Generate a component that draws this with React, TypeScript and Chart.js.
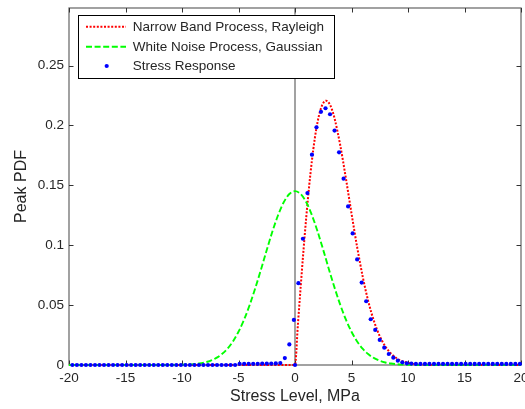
import React, { useEffect, useRef } from 'react';
import { Chart, registerables } from 'chart.js';

Chart.register(...registerables);

// Axis ticks
const xTicks = [-20, -15, -10, -5, 0, 5, 10, 15, 20];
const xTickLabels = ['-20', '-15', '-10', '-5', '0', '5', '10', '15', '20'];
const yTicks = [0, 0.05, 0.1, 0.15, 0.2, 0.25];
const yTickLabels = ['0', '0.05', '0.1', '0.15', '0.2', '0.25'];

// Narrow band process: Rayleigh peak PDF
const rayleighX = [
  -20, 0, 0.25, 0.5, 0.75, 1, 1.25, 1.5, 1.75, 2, 2.25, 2.5, 2.75, 3, 3.25, 3.5,
  4, 4.5, 5, 5.5, 6, 6.5, 7, 7.5, 8, 8.5, 9, 9.5, 10, 10.5, 11, 11.5, 12, 13, 20,
];
const rayleighY = [
  0, 0, 0.0329, 0.065, 0.0956, 0.1238, 0.1491, 0.1709, 0.189, 0.203, 0.2129, 0.2187, 0.2206, 0.2188, 0.2138, 0.2059,
  0.1836, 0.156, 0.1266, 0.0984, 0.0734, 0.0526, 0.0363, 0.0241, 0.0154, 0.0095, 0.0056, 0.0032, 0.0018, 0.0009, 0.0004, 0.0002, 0.0001, 0, 0,
];

// White noise process: Gaussian peak PDF
const gaussX = [
  -20, -11, -10.5, -10, -9.5, -9, -8.5, -8, -7.5, -7, -6.5, -6, -5.5, -5, -4.5, -4, -3.5, -3, -2.5, -2, -1.5, -1, -0.5,
  0, 0.5, 1, 1.5, 2, 2.5, 3, 3.5, 4, 4.5, 5, 5.5, 6, 6.5, 7, 7.5, 8, 8.5, 9, 9.5, 10, 10.5, 11, 20,
];
const gaussY = [
  0, 0, 0.0001, 0.0002, 0.0004, 0.0007, 0.0012, 0.0021, 0.0035, 0.0057, 0.0089, 0.0134, 0.0196, 0.0278, 0.038, 0.0504, 0.0646, 0.08, 0.096, 0.1114, 0.125, 0.1358, 0.1427,
  0.1451, 0.1427, 0.1358, 0.125, 0.1114, 0.096, 0.08, 0.0646, 0.0504, 0.038, 0.0278, 0.0196, 0.0134, 0.0089, 0.0057, 0.0035, 0.0021, 0.0012, 0.0007, 0.0004, 0.0002, 0.0001, 0, 0,
];

// Stress response: peak histogram
const stressX = [
  -19.7, -19.3, -18.9, -18.5, -18.1, -17.7, -17.3, -16.9, -16.5, -16.1,
  -15.7, -15.3, -14.9, -14.5, -14.1, -13.7, -13.3, -12.9, -12.5, -12.1,
  -11.7, -11.3, -10.9, -10.5, -10.1, -9.7, -9.3, -8.9, -8.5, -8.1,
  -7.7, -7.3, -6.9, -6.5, -6.1, -5.7, -5.3, -4.9, -4.5, -4.1,
  -3.7, -3.3, -2.9, -2.5, -2.1, -1.7, -1.3, -0.9, -0.5, -0.1, 0,
  0.3, 0.7, 1.1, 1.5, 1.9, 2.3, 2.7, 3.1, 3.5, 3.9,
  4.3, 4.7, 5.1, 5.5, 5.9, 6.3, 6.7, 7.1, 7.5, 7.9,
  8.3, 8.7, 9.1, 9.5, 9.9, 10.3, 10.7, 11.1, 11.5, 11.9,
  12.3, 12.7, 13.1, 13.5, 13.9, 14.3, 14.7, 15.1, 15.5, 15.9,
  16.3, 16.7, 17.1, 17.5, 17.9, 18.3, 18.7, 19.1, 19.5, 19.9,
];
const stressY = [
  0, 0, 0, 0, 0, 0, 0, 0, 0, 0,
  0, 0, 0, 0, 0, 0, 0, 0, 0, 0,
  0, 0, 0, 0, 0, 0, 0, 0, 0, 0,
  0, 0, 0, 0, 0, 0, 0, 0.001, 0.001, 0.001,
  0.001, 0.001, 0.0012, 0.0012, 0.0012, 0.0013, 0.0016, 0.0058, 0.0172, 0.0376, 0,
  0.0683, 0.1054, 0.1435, 0.1756, 0.1984, 0.2113, 0.2143, 0.2093, 0.1957, 0.1775,
  0.1555, 0.1324, 0.1098, 0.0881, 0.0688, 0.0532, 0.0382, 0.0293, 0.0209, 0.0145,
  0.0092, 0.0061, 0.0036, 0.0022, 0.0014, 0.0012, 0.0009, 0.0009, 0.0009, 0.0009,
  0.0009, 0.0009, 0.0009, 0.0009, 0.0009, 0.0009, 0.0009, 0.0009, 0.0009, 0.0009,
  0.0009, 0.0009, 0.0009, 0.0009, 0.0009, 0.0009, 0.0009, 0.0009, 0.0009, 0.0009,
];

const seriesLabels = ['Narrow Band Process, Rayleigh', 'White Noise Process, Gaussian', 'Stress Response'];

const FONT = "'Liberation Sans', Arial, Helvetica, sans-serif";
const TEXT = '#262626';

const toPoints = (xs: number[], ys: number[]) => xs.map((x, i) => ({ x, y: ys[i] }));

// Keep the plot box fixed: no extra room reserved for the end tick labels
const zeroPadding = (scale: any) => {
  scale.paddingTop = 0;
  scale.paddingBottom = 0;
  scale.paddingLeft = 0;
  scale.paddingRight = 0;
};

// Box, inward ticks and the x = 0 reference line, drawn under the data
const axesFrame = {
  id: 'axesFrame',
  beforeDatasetsDraw(chart: any) {
    const { ctx, chartArea } = chart;
    const { left, right, top, bottom } = chartArea;
    const xs = chart.scales.x;
    const ys = chart.scales.y;
    const len = 4.5;
    ctx.save();
    ctx.strokeStyle = '#707070';
    ctx.lineWidth = 1.3;
    ctx.strokeRect(left, top, right - left, bottom - top);
    const x0 = xs.getPixelForValue(0);
    ctx.beginPath();
    ctx.moveTo(x0, top);
    ctx.lineTo(x0, bottom);
    ctx.stroke();
    ctx.strokeStyle = '#333';
    ctx.lineWidth = 1;
    ctx.beginPath();
    xTicks.forEach((v) => {
      const px = Math.round(xs.getPixelForValue(v)) + 0.5;
      ctx.moveTo(px, bottom);
      ctx.lineTo(px, bottom - len);
      ctx.moveTo(px, top);
      ctx.lineTo(px, top + len);
    });
    yTicks.forEach((v) => {
      const py = Math.round(ys.getPixelForValue(v)) + 0.5;
      ctx.moveTo(left, py);
      ctx.lineTo(left + len, py);
      ctx.moveTo(right, py);
      ctx.lineTo(right - len, py);
    });
    ctx.stroke();
    ctx.restore();
  },
};

// Legend box inside the upper-left corner of the plot
const insetLegend = {
  id: 'insetLegend',
  afterDatasetsDraw(chart: any) {
    const { ctx, chartArea } = chart;
    const bx = chartArea.left + 8.7;
    const by = chartArea.top + 6.7;
    const bw = 256.3;
    const bh = 63.3;
    ctx.save();
    ctx.fillStyle = '#ffffff';
    ctx.fillRect(bx, by, bw, bh);
    ctx.strokeStyle = '#000000';
    ctx.lineWidth = 1;
    ctx.strokeRect(Math.round(bx) + 0.5, Math.round(by) + 0.5, Math.round(bw), Math.round(bh));
    const rows = [12, 32, 51.3];
    chart.data.datasets.forEach((ds: any, i: number) => {
      const cy = by + rows[i];
      if (ds.showLine) {
        ctx.strokeStyle = ds.borderColor;
        ctx.lineWidth = ds.borderWidth;
        ctx.setLineDash(ds.borderDash || []);
        ctx.beginPath();
        ctx.moveTo(bx + 8.3, cy);
        ctx.lineTo(bx + 48.3, cy);
        ctx.stroke();
        ctx.setLineDash([]);
      } else {
        ctx.fillStyle = ds.pointBackgroundColor;
        ctx.beginPath();
        ctx.arc(bx + 29, cy, ds.pointRadius, 0, Math.PI * 2);
        ctx.fill();
      }
      ctx.fillStyle = TEXT;
      ctx.font = `13.5px ${FONT}`;
      ctx.textAlign = 'left';
      ctx.textBaseline = 'middle';
      ctx.fillText(ds.label, bx + 55, cy + 0.5);
    });
    ctx.restore();
  },
};

export default function App() {
  const canvasRef = useRef<HTMLCanvasElement | null>(null);

  useEffect(() => {
    if (!canvasRef.current) return;
    const chart = new Chart(canvasRef.current, {
      type: 'scatter',
      data: {
        datasets: [
          {
            label: seriesLabels[0],
            data: toPoints(rayleighX, rayleighY),
            showLine: true,
            borderColor: '#ff0000',
            borderWidth: 2,
            borderDash: [2, 1.6],
            pointRadius: 0,
            cubicInterpolationMode: 'monotone',
            clip: false,
            order: 2,
          },
          {
            label: seriesLabels[1],
            data: toPoints(gaussX, gaussY),
            showLine: true,
            borderColor: '#00ff00',
            borderWidth: 1.9,
            borderDash: [6, 2.6],
            pointRadius: 0,
            cubicInterpolationMode: 'monotone',
            clip: false,
            order: 1,
          },
          {
            label: seriesLabels[2],
            data: toPoints(stressX, stressY),
            showLine: false,
            pointRadius: 2.1,
            pointBorderWidth: 0,
            pointBackgroundColor: '#0000ff',
            pointBorderColor: '#0000ff',
            clip: false,
            order: 0,
          },
        ] as any,
      },
      options: {
        responsive: false,
        animation: false,
        events: [],
        layout: { padding: { top: 8, right: 2, left: 0, bottom: 0 } },
        plugins: { legend: { display: false }, tooltip: { enabled: false } },
        scales: {
          x: {
            type: 'linear',
            min: -20,
            max: 20,
            afterBuildTicks: (scale: any) => {
              scale.ticks = xTicks.map((value) => ({ value }));
            },
            afterFit: (scale: any) => {
              scale.height = 44;
              zeroPadding(scale);
            },
            grid: { display: false, drawTicks: false },
            border: { display: false },
            ticks: {
              padding: 5,
              color: TEXT,
              font: { family: FONT, size: 13.5 },
              maxRotation: 0,
              autoSkip: false,
              callback: (_v: any, i: number) => xTickLabels[i],
            },
            title: {
              display: true,
              text: 'Stress Level, MPa',
              color: TEXT,
              font: { family: FONT, size: 16 },
              padding: { top: 0, bottom: 2.4 },
            },
          },
          y: {
            type: 'linear',
            min: 0,
            max: 0.298,
            afterBuildTicks: (scale: any) => {
              scale.ticks = yTicks.map((value) => ({ value }));
            },
            afterFit: (scale: any) => {
              scale.width = 69;
              zeroPadding(scale);
            },
            grid: { display: false, drawTicks: false },
            border: { display: false },
            ticks: {
              padding: 5,
              color: TEXT,
              font: { family: FONT, size: 13.5 },
              autoSkip: false,
              callback: (_v: any, i: number) => yTickLabels[i],
            },
            title: {
              display: true,
              text: 'Peak PDF',
              color: TEXT,
              font: { family: FONT, size: 16 },
              padding: { top: 11.9, bottom: 0 },
            },
          },
        },
      },
      plugins: [axesFrame, insetLegend],
    });
    return () => chart.destroy();
  }, []);

  return (
    <div style={{ position: 'fixed', left: 0, top: 0, width: 525, height: 409, background: '#fff' }}>
      <canvas ref={canvasRef} width={525} height={409} style={{ display: 'block' }} />
    </div>
  );
}
